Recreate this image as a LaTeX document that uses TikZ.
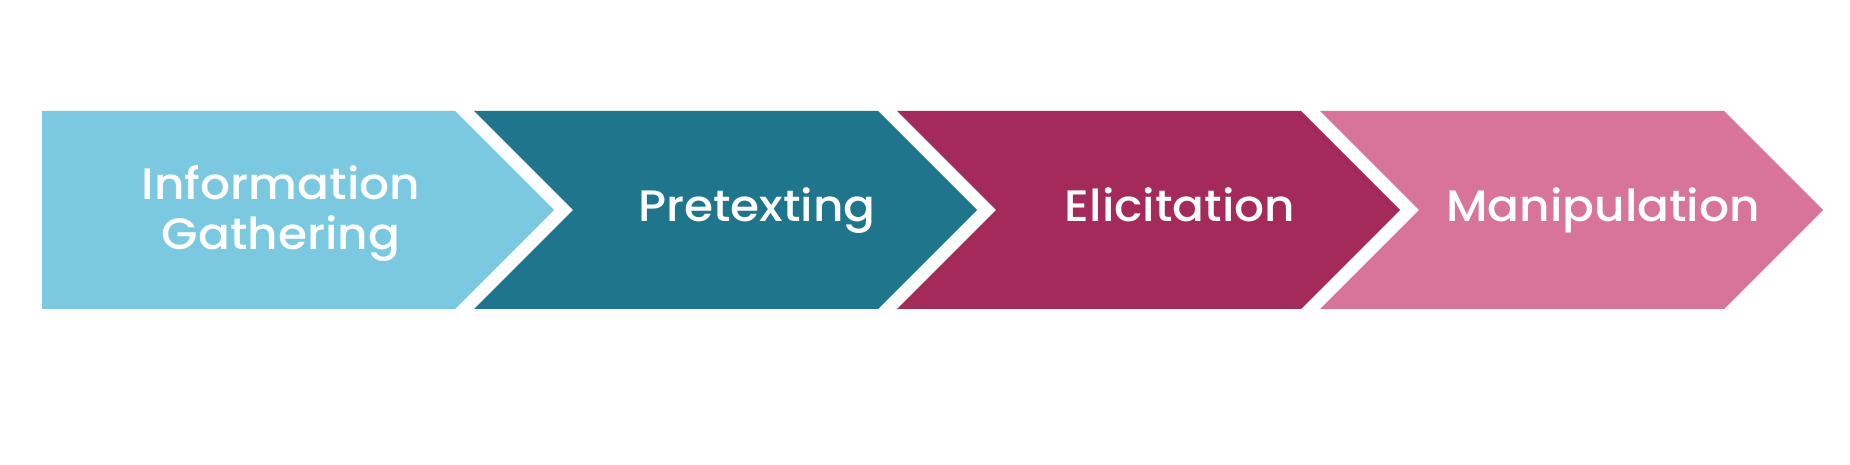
\documentclass[tikz,border=0pt]{standalone}
\usepackage{fontspec}
\setmainfont{Poppins}[UprightFont=* Medium, FakeStretch=1.07]
\definecolor{cA}{HTML}{7AC9E1}
\definecolor{cB}{HTML}{1F758B}
\definecolor{cC}{HTML}{A32A5A}
\definecolor{cD}{HTML}{D87399}
\begin{document}
\begin{tikzpicture}[x=1pt,y=1pt,
  lbl/.style={text=white,inner sep=0pt,anchor=base,align=center,
    font=\fontsize{44}{50}\selectfont}]
\useasboundingbox[fill=white] (0,0) rectangle (1850,465);
% chevrons: top Y=354, bottom Y=156, mid Y=255, depth 99
\fill[cA] (42,354) -- (455,354) -- (554,255) -- (455,156) -- (42,156) -- cycle;
\fill[cB] (474,354) -- (878,354) -- (977,255) -- (878,156) -- (474,156) -- (573,255) -- cycle;
\fill[cC] (897,354) -- (1301,354) -- (1400,255) -- (1301,156) -- (897,156) -- (996,255) -- cycle;
\fill[cD] (1320,354) -- (1724,354) -- (1823,255) -- (1724,156) -- (1320,156) -- (1419,255) -- cycle;
\node[lbl] (t1) at (281,215) {Information\\Gathering};
\node[lbl] (t2) at (757,243) {Pretexting};
\node[lbl] (t3) at (1180,243) {Elicitation};
\node[lbl] (t4) at (1603,243) {Manipulation};
\end{tikzpicture}
\end{document}
